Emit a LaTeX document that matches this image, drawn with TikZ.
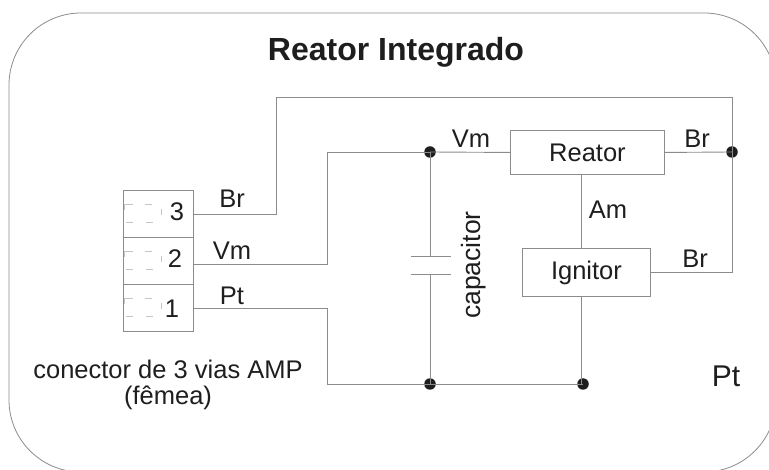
\documentclass[tikz,border=0pt]{standalone}
\usepackage{fontspec}
\setmainfont{Liberation Sans}
\definecolor{ln}{HTML}{8C8C8C}
\definecolor{tx}{HTML}{1E1E1E}
\tikzset{
  wire/.style={draw=ln,line width=0.9pt},
  box/.style={draw=ln,line width=0.9pt,fill=white,inner sep=0,minimum width=#1},
  dot/.style={circle,fill=tx,inner sep=0,minimum size=11.5pt},
  lab/.style={text=tx,font=\fontsize{25.5}{28}\selectfont,inner sep=0},
  pin/.style={draw=ln!50,line width=0.7pt},
}
\begin{document}
\begin{tikzpicture}[x=1pt,y=-1pt]
\useasboundingbox (0,0) rectangle (769,470);
\begin{scope}
\clip (0,0) rectangle (769,470);
\draw[draw=ln,line width=0.8pt,rounded corners=72pt] (9,13) rectangle (776,472);
\end{scope}
% connector
\node[box=70pt,minimum height=47pt,anchor=north west] (c3) at (123,190) {};
\node[box=70pt,minimum height=47pt,anchor=north west] (c2) at (123,237) {};
\node[box=70pt,minimum height=47pt,anchor=north west] (c1) at (123,284) {};
\foreach \y in {0,47,94}{
  \draw[pin] (124,204+\y) -- (133,204+\y) (145,204+\y) -- (152,204+\y)
             (126,222+\y) -- (133,222+\y) (146,222+\y) -- (153,222+\y)
             (124,204+\y) -- (124,210+\y) (161,209+\y) -- (161,215+\y);
}
\node[lab] at (177,212) {3};
\node[lab] at (175,259) {2};
\node[lab] at (172,309) {1};
% boxes
\node[box=154pt,minimum height=44pt,anchor=north west,lab] (reator) at (510,130) {Reator};
\node[box=128pt,minimum height=48pt,anchor=north west,lab] (ignitor) at (522,248) {Ignitor};
% dots
\node[dot] (d1) at (430,152) {};
\node[dot] (d2) at (732,152) {};
\node[dot] (d3) at (430,384) {};
\node[dot] (d4) at (583,384) {};
\coordinate (p1) at (430,256);
\coordinate (p2) at (430,274);
\coordinate (brA) at (193,214);
\coordinate (vmA) at (193,264);
\coordinate (ptA) at (193,308);
% wires
\draw[wire] (brA) -- (276,214) -- (276,97) -- (732,97) -- (d2.center);
\draw[wire] (vmA) -- (327,264) -- (327,152) -- (d1.center);
\draw[wire] (ptA) -- (327,308) -- (327,384) -- (d3.center);
\draw[wire] (d1.center) -- (reator.west);
\draw[wire] (reator.east) -- (d2.center);
\draw[wire] (d2.center) |- (ignitor.east);
\draw[wire] (581,174) -- (581,248);
\draw[wire] (581,296) -- (581,384);
\draw[wire] (d3.center) -- (d4.center);
\draw[wire] (d1.center) -- (p1);
\draw[wire] (p2) -- (d3.center);
\draw[wire] (411,256) -- (451,256);
\draw[wire] (411,274) -- (451,274);
% labels
\node[text=tx,inner sep=0,font=\fontsize{32}{34}\selectfont\bfseries] (title) at (396,52) {Reator Integrado};
\node[lab] (l1) at (232,199) {Br};
\node[lab] (l2) at (232,251) {Vm};
\node[lab] (l3) at (232,296) {Pt};
\node[lab] (l4) at (471,139) {Vm};
\node[lab] (l5) at (697,139) {Br};
\node[lab] (l6) at (608,210) {Am};
\node[lab] (l7) at (695,259) {Br};
\node[lab,rotate=90,font=\fontsize{26.5}{28}\selectfont] (l8) at (474,265) {capacitor};
\node[text=tx,inner sep=0,font=\fontsize{30}{32}\selectfont] (l9) at (726,376) {Pt};
\node[lab,anchor=base] (l10) at (168,379) {conector de 3 vias AMP};
\node[lab,anchor=base] (l11) at (168,405) {(fêmea)};
\end{tikzpicture}
\end{document}
